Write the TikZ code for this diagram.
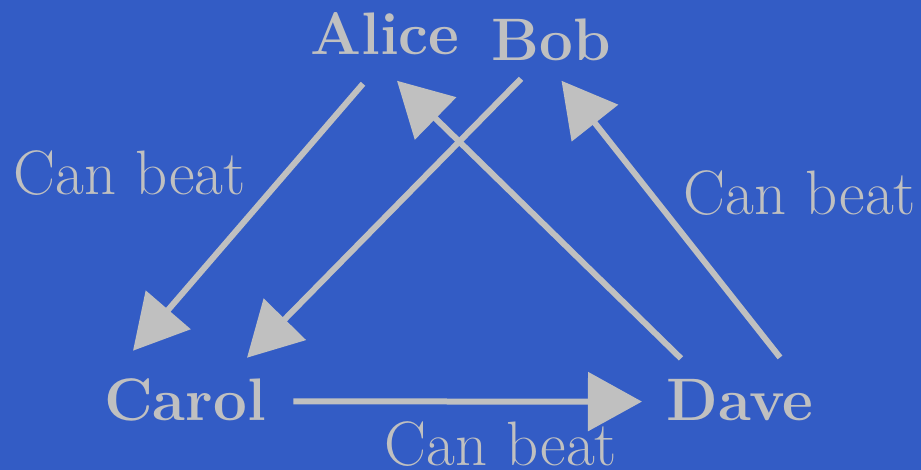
\documentclass[tikz,border=0pt]{standalone}
\usepackage{amsfonts}
\usetikzlibrary{arrows.meta}

\definecolor{boardblue}{RGB}{51,92,197}
\definecolor{chalk}{RGB}{192,192,192}

\tikzset{
  player/.style={inner sep=0pt, anchor=base, text=chalk, font=\fontsize{30}{35}\selectfont\bfseries},
  beats/.style={inner sep=0pt, anchor=base, text=chalk, font=\fontsize{31.4}{36}\selectfont},
  arr/.style={draw=chalk, line width=3pt, -{Triangle[length=27pt,width=29pt]}}
}

\begin{document}
\begin{tikzpicture}[x=0.5pt, y=-0.5pt]
            % Background
            \fill[boardblue] (0,0) rectangle (921,470);
            \useasboundingbox (0,0) rectangle (921,470);

            % Players
            \node[player] (alice) at (385,55) {Alice};
            \node[player] (bob) at (551.5,61) {Bob};
            \node[player] (carol) at (185,420) {Carol};
            \node[player] (dave) at (740,420) {Dave};

            % Who beats whom
            \draw[arr] ([shift={(-22,28)}]alice.south) -- ([shift={(-52,-27)}]carol.north);
            \draw[arr] ([shift={(-30.5,17)}]bob.south) -- ([shift={(62,-20)}]carol.north);
            \draw[arr] ([shift={(-59,-20)}]dave.north) -- ([shift={(12,25)}]alice.south);
            \draw[arr] ([shift={(40,-21)}]dave.north) -- ([shift={(10,19)}]bob.south);
            \draw[arr] ([shift={(27,2)}]carol.east) -- ([shift={(-24,2)}]dave.west);

            % Labels
            \node[beats] (beatl) at (129.5,195) {Can beat};
            \node[beats] (beatr) at (800,215) {Can beat};
            \node[beats] (beatb) at (501,465) {Can beat};
        \end{tikzpicture}
\end{document}
